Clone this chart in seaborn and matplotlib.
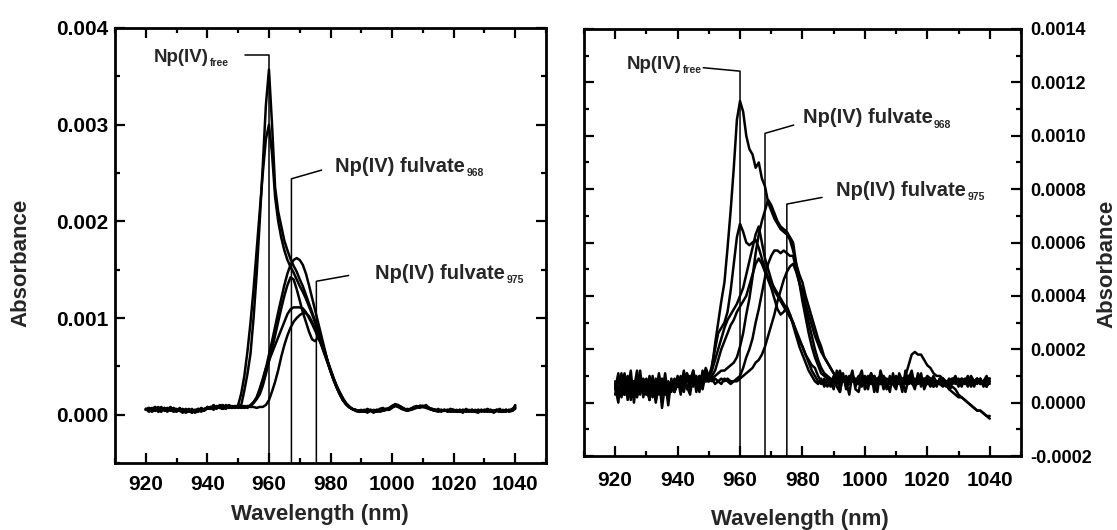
import numpy as np
import pandas as pd
import matplotlib
matplotlib.use("Agg")
import matplotlib.pyplot as plt
from matplotlib.ticker import MultipleLocator, FormatStrFormatter
import seaborn as sns

# ---------------- data (absorbance in units of 1e-5) ----------------
wavelength = list(range(920, 1041))

left_free_a = [
    5, 7, 4, 6, 5, 8, 4, 6, 5, 7,
    5, 4, 6, 3, 5, 4, 3, 5, 4, 6,
    6, 8, 5, 9, 7, 6, 8, 7, 9, 8,
    9, 10, 25, 42, 63, 100, 145, 200, 258, 320,
    357, 300, 235, 210, 195, 180, 170, 161, 154, 148,
    140, 133, 124, 115, 106, 97, 88, 78, 67, 56,
    47, 38, 30, 23, 17, 12, 9, 6, 5, 4,
    4, 3, 4, 5, 3, 4, 5, 4, 5, 6,
    8, 10, 9, 7, 6, 5, 6, 7, 8, 9,
    9, 8, 7, 6, 5, 4, 5, 4, 5, 4,
    4, 5, 3, 4, 5, 4, 3, 5, 4, 4,
    5, 4, 3, 4, 5, 4, 3, 4, 5, 4,
    9]
left_free_b = [
    6, 3, 5, 8, 4, 3, 7, 5, 8, 4,
    3, 7, 4, 2, 4, 6, 2, 4, 7, 5,
    8, 6, 10, 7, 9, 10, 7, 10, 8, 7,
    10, 22, 40, 65, 95, 130, 170, 210, 250, 285,
    300, 270, 225, 200, 183, 170, 160, 153, 147, 140,
    133, 127, 120, 112, 104, 95, 86, 76, 66, 56,
    46, 37, 29, 22, 16, 11, 8, 6, 5, 4,
    3, 4, 6, 4, 2, 4, 6, 7, 5, 6,
    9, 11, 10, 8, 6, 5, 6, 8, 9, 8,
    8, 10, 7, 5, 4, 6, 3, 5, 4, 6,
    5, 3, 4, 2, 6, 4, 5, 3, 2, 5,
    4, 6, 4, 2, 4, 6, 3, 5, 4, 6,
    7]
left_fulv_c = [
    5, 6, 3, 5, 8, 5, 6, 3, 7, 5,
    6, 4, 2, 5, 4, 2, 5, 3, 5, 4,
    7, 6, 9, 6, 10, 7, 6, 9, 7, 8,
    7, 8, 9, 8, 10, 13, 17, 25, 36, 48,
    62, 76, 91, 106, 120, 134, 146, 155, 160, 162,
    160, 155, 146, 134, 121, 108, 95, 82, 69, 56,
    45, 36, 29, 23, 17, 12, 8, 6, 4, 3,
    3, 4, 2, 5, 4, 3, 4, 5, 6, 7,
    9, 10, 8, 7, 5, 4, 5, 6, 7, 8,
    8, 7, 6, 5, 4, 3, 4, 5, 4, 3,
    4, 3, 5, 4, 3, 4, 5, 3, 4, 5,
    3, 4, 5, 3, 4, 3, 4, 5, 3, 4,
    6]
left_fulv_d = [
    6, 5, 7, 4, 6, 5, 7, 5, 4, 6,
    5, 4, 5, 4, 3, 5, 4, 6, 5, 5,
    8, 7, 6, 8, 7, 9, 8, 7, 8, 9,
    8, 9, 8, 8, 9, 12, 16, 21, 30, 42,
    55, 68, 82, 96, 110, 123, 134, 142, 140, 130,
    118, 106, 96, 86, 78, 76, 80, 74, 66, 55,
    45, 36, 28, 21, 15, 11, 8, 6, 5, 4,
    4, 5, 3, 4, 5, 4, 3, 4, 5, 5,
    8, 9, 9, 7, 5, 6, 5, 7, 8, 9,
    9, 8, 6, 5, 4, 5, 4, 4, 5, 4,
    3, 4, 5, 4, 4, 5, 3, 4, 5, 4,
    4, 3, 5, 4, 4, 3, 5, 4, 4, 5,
    8]
left_fulv_e = [
    5, 7, 5, 8, 3, 6, 5, 7, 5, 3,
    5, 6, 3, 4, 6, 2, 4, 6, 3, 6,
    6, 7, 9, 7, 8, 6, 10, 8, 7, 8,
    8, 7, 8, 7, 9, 13, 18, 27, 37, 48,
    56, 64, 72, 80, 88, 96, 104, 109, 111, 111,
    111, 110, 106, 100, 94, 87, 80, 72, 63, 54,
    45, 36, 28, 21, 15, 11, 8, 6, 5, 4,
    5, 4, 3, 4, 4, 5, 4, 5, 6, 5,
    7, 9, 8, 6, 5, 4, 6, 7, 8, 7,
    9, 8, 7, 6, 5, 4, 4, 5, 3, 4,
    5, 4, 3, 5, 4, 3, 4, 4, 5, 3,
    4, 5, 4, 3, 5, 4, 4, 3, 5, 4,
    7]
left_fulv_f = [
    6, 5, 6, 4, 5, 7, 5, 4, 6, 5,
    4, 5, 4, 6, 3, 4, 5, 4, 6, 5,
    7, 8, 6, 8, 8, 7, 8, 9, 7, 8,
    8, 8, 7, 9, 8, 8, 7, 8, 8, 10,
    15, 24, 34, 46, 60, 72, 82, 90, 96, 100,
    103, 105, 105, 102, 96, 89, 81, 73, 64, 55,
    46, 37, 29, 22, 16, 11, 8, 6, 5, 4,
    4, 3, 5, 4, 3, 5, 4, 5, 5, 6,
    8, 10, 9, 8, 6, 5, 5, 6, 8, 9,
    8, 8, 7, 5, 5, 4, 5, 4, 4, 5,
    4, 4, 3, 5, 4, 4, 5, 3, 4, 4,
    5, 4, 3, 4, 5, 4, 3, 5, 4, 4,
    10]

right_free_a = [
    6, 0, 11, 3, 9, 1, 8, 4, 12, 2,
    8, 1, 10, 0, 7, 3, 11, 2, 7, 4,
    9, 3, 11, 5, 8, 12, 4, 10, 7, 13,
    10, 13, 22, 30, 38, 45, 58, 72, 88, 106,
    113, 109, 100, 95, 93, 88, 90, 84, 81, 75,
    72, 69, 67, 65, 64, 63, 61, 57, 52, 48,
    45, 40, 36, 32, 28, 24, 21, 17, 15, 13,
    11, 9, 12, 8, 10, 7, 9, 8, 10, 7,
    8, 9, 7, 10, 8, 7, 9, 8, 7, 8,
    9, 7, 8, 10, 7, 8, 9, 7, 8, 7,
    8, 7, 6, 8, 7, 6, 7, 5, 6, 5,
    3, 2, 1, 0, -1, -2, -3, -3, -4, -5,
    -5]
right_free_b = [
    5, 11, 2, 8, 5, 12, 0, 9, 4, 8,
    3, 10, 5, 1, 11, 4, 8, -1, 9, 5,
    10, 5, 12, 6, 3, 11, 7, 4, 12, 8,
    9, 14, 20, 26, 28, 30, 34, 42, 52, 62,
    67, 64, 60, 59, 60, 61, 58, 54, 50, 47,
    45, 43, 41, 39, 37, 35, 33, 30, 27, 24,
    21, 18, 15, 12, 10, 8, 7, 9, 6, 8,
    5, 12, 4, 10, 8, 3, 11, 6, 9, 12,
    5, 8, 11, 4, 9, 10, 5, 8, 4, 11,
    6, 9, 4, 12, 7, 8, 5, 11, 6, 9,
    7, 9, 6, 8, 7, 9, 6, 8, 7, 9,
    6, 8, 7, 9, 6, 8, 7, 9, 6, 8,
    8]
right_fulv_c = [
    7, 4, 8, 3, 9, 5, 6, 2, 7, 5,
    8, 4, 7, 5, 3, 6, 4, 8, 5, 7,
    6, 9, 7, 10, 8, 6, 9, 7, 11, 8,
    8, 9, 10, 11, 12, 12, 13, 14, 15, 17,
    21, 26, 33, 39, 47, 56, 63, 68, 72, 76,
    74, 71, 68, 66, 65, 64, 62, 60, 52, 45,
    38, 32, 26, 21, 17, 14, 11, 10, 9, 8,
    9, 7, 10, 8, 9, 7, 10, 8, 7, 9,
    8, 10, 7, 9, 8, 10, 7, 9, 8, 7,
    10, 8, 9, 7, 8, 10, 7, 9, 8, 9,
    7, 8, 10, 7, 9, 8, 7, 9, 8, 10,
    7, 9, 8, 7, 10, 8, 9, 7, 8, 9,
    9]
right_fulv_d = [
    3, 10, 5, 11, 1, 8, 5, 12, 3, 9,
    6, 1, 8, 4, 10, -2, 7, 3, 8, 4,
    9, 6, 4, 11, 5, 12, 7, 9, 5, 11,
    9, 12, 16, 20, 24, 28, 31, 33, 35, 37,
    40, 43, 48, 53, 58, 63, 66, 60, 54, 50,
    46, 42, 40, 38, 36, 34, 32, 30, 26, 23,
    21, 18, 16, 14, 13, 10, 8, 7, 9, 6,
    8, 9, 7, 10, 6, 8, 9, 7, 8, 6,
    9, 7, 8, 10, 7, 9, 6, 8, 9, 7,
    8, 9, 7, 8, 10, 7, 8, 9, 7, 8,
    9, 7, 8, 6, 9, 7, 8, 6, 9, 7,
    8, 6, 9, 7, 8, 6, 9, 7, 8, 6,
    9]
right_fulv_e = [
    8, 3, 6, 9, 4, 7, 2, 8, 6, 5,
    3, 7, 5, 9, 4, 6, 8, 3, 7, 4,
    7, 10, 6, 8, 9, 7, 10, 6, 8, 9,
    8, 10, 12, 16, 20, 23, 26, 29, 31, 34,
    36, 38, 40, 44, 48, 52, 54, 52, 49, 46,
    43, 39, 35, 33, 34, 36, 33, 29, 25, 21,
    18, 15, 12, 10, 8, 7, 9, 6, 8, 7,
    10, 6, 4, 11, 5, 8, 12, 5, 4, 10,
    8, 5, 11, 7, 4, 12, 8, 5, 10, 7,
    5, 11, 8, 4, 9, 12, 6, 8, 11, 5,
    8, 6, 9, 8, 7, 9, 8, 6, 7, 8,
    9, 7, 8, 6, 9, 7, 8, 9, 7, 6,
    8]
right_fulv_f = [
    6, 9, 4, 7, 10, 3, 8, 5, 9, 6,
    4, 7, 2, 8, 5, 9, 3, 6, 4, 8,
    9, 6, 8, 11, 7, 9, 8, 10, 7, 9,
    8, 9, 7, 8, 9, 8, 9, 8, 8, 9,
    10, 13, 17, 20, 24, 30, 35, 41, 47, 52,
    55, 57, 57, 56, 57, 56, 55, 55, 50, 45,
    40, 35, 30, 25, 20, 16, 13, 11, 10, 9,
    8, 10, 7, 9, 8, 10, 9, 7, 8, 9,
    10, 8, 9, 7, 8, 9, 10, 8, 7, 9,
    8, 7, 9, 8, 10, 9, 8, 7, 9, 8,
    10, 9, 8, 7, 8, 9, 7, 8, 9, 8,
    7, 9, 8, 10, 7, 8, 9, 7, 8, 10,
    7]
right_fulv_g = [
    7, 5, 9, 3, 6, 8, 4, 10, 5, 7,
    9, 5, 6, 4, 7, 3, 8, 6, 5, 9,
    6, 8, 7, 9, 10, 8, 7, 9, 8, 10,
    9, 8, 9, 8, 7, 9, 8, 7, 8, 8,
    9, 10, 11, 12, 13, 15, 16, 18, 21, 25,
    29, 33, 38, 42, 46, 49, 51, 52, 49, 45,
    42, 37, 33, 29, 25, 22, 19, 17, 15, 13,
    11, 10, 9, 8, 9, 7, 8, 9, 7, 8,
    9, 8, 7, 9, 8, 7, 9, 8, 7, 9,
    8, 9, 7, 10, 14, 18, 19, 18, 18, 16,
    14, 13, 11, 10, 10, 9, 7, 5, 4, 3,
    2, 2, 1, 0, -1, -2, -3, -3, -4, -5,
    -6]

left_series = {"free_a": left_free_a, "free_b": left_free_b, "fulv_c": left_fulv_c,
               "fulv_d": left_fulv_d, "fulv_e": left_fulv_e, "fulv_f": left_fulv_f}
right_series = {"free_a": right_free_a, "free_b": right_free_b, "fulv_c": right_fulv_c,
                "fulv_d": right_fulv_d, "fulv_e": right_fulv_e, "fulv_f": right_fulv_f,
                "fulv_g": right_fulv_g}

# species peak positions (nm) marked by the leader lines
peak_free = 960.0
peak_968_left, peak_975_left = 967.3, 975.4
peak_968_right, peak_975_right = 968.0, 975.0

SCALE = 1e-5


def long_frame(series):
    rows = []
    for name, vals in series.items():
        for w, v in zip(wavelength, vals):
            rows.append((name, w, v * SCALE))
    return pd.DataFrame(rows, columns=["series", "wavelength", "absorbance"])


df_left = long_frame(left_series)
df_right = long_frame(right_series)

# ---------------- style ----------------
sns.set_style("ticks")
plt.rcParams["font.family"] = ["Liberation Sans", "DejaVu Sans"]
plt.rcParams["font.weight"] = "bold"

fig = plt.figure(figsize=(11.17, 5.30), dpi=100)
axL = fig.add_axes([0.103, 0.1264, 0.3858, 0.8208])
axR = fig.add_axes([0.5228, 0.1396, 0.3912, 0.8057])

for ax, df in ((axL, df_left), (axR, df_right)):
    sns.lineplot(data=df, x="wavelength", y="absorbance", units="series",
                 estimator=None, color="black", lw=1.8, ax=ax, legend=False)


def style_axes(ax, ymaj, ymin, yfmt, right_labels):
    ax.set_xlim(910, 1050)
    ax.xaxis.set_major_locator(MultipleLocator(20))
    ax.xaxis.set_minor_locator(MultipleLocator(10))
    ax.yaxis.set_major_locator(MultipleLocator(ymaj))
    ax.yaxis.set_minor_locator(MultipleLocator(ymin))
    ax.yaxis.set_major_formatter(FormatStrFormatter(yfmt))
    ax.tick_params(which="both", direction="in", top=True, bottom=True,
                   left=True, right=True, width=1.6, colors="black")
    ax.tick_params(which="major", length=7)
    ax.tick_params(which="minor", length=3.5)
    ax.tick_params(axis="x", which="major", labelsize=15)
    if right_labels:
        ax.tick_params(axis="x", pad=11)
        ax.tick_params(axis="y", labelleft=False, labelright=True, labelsize=13, pad=7)
    else:
        ax.tick_params(axis="x", pad=8.5)
        ax.tick_params(axis="y", labelsize=15, pad=5)
    for lab in ax.get_xticklabels() + ax.get_yticklabels():
        lab.set_fontweight("bold")
    for sp in ax.spines.values():
        sp.set_linewidth(2.0)
        sp.set_color("black")
        sp.set_visible(True)
    ax.set_xlabel("Wavelength (nm)", fontsize=16, fontweight="bold")
    ax.set_ylabel("Absorbance", fontsize=16, fontweight="bold")


style_axes(axL, 0.001, 0.0005, "%.3f", False)
axL.set_ylim(-0.0005, 0.004)
axL.xaxis.set_label_coords(0.476, -0.095)
axL.yaxis.set_label_coords(-0.193, 0.46)

style_axes(axR, 0.0002, 0.0001, "%.4f", True)
axR.set_ylim(-0.0002, 0.0014)
axR.yaxis.set_label_position("right")
axR.yaxis.set_label_coords(1.172, 0.45)
axR.xaxis.set_label_coords(0.494, -0.125)

# ---------------- annotations ----------------
fig.canvas.draw()
renderer = fig.canvas.get_renderer()


def label(ax, x, y, main, sub, fs=14, sub_fs=7.5):
    t = ax.annotate(main, xy=(x, y), xytext=(0, -5), textcoords="offset points",
                    fontsize=fs, fontweight="bold", va="baseline", ha="left")
    w_pt = t.get_window_extent(renderer).width * 72.0 / fig.dpi
    ax.annotate(sub, xy=(x, y), xytext=(w_pt + 0.8, -8), textcoords="offset points",
                fontsize=sub_fs, fontweight="bold", va="baseline", ha="left")


def leader(ax, x0, y0, xp, yc, ybottom):
    ax.plot([x0, xp, xp], [y0, yc, ybottom], color="black", lw=1.1)


# left panel
label(axL, 922.5, 0.00372, "Np(IV)", "free", fs=13.5)
leader(axL, 952.1, 0.00372, peak_free, 0.00372, -0.0005)
label(axL, 981.6, 0.00258, "Np(IV) fulvate", "968", fs=14.5)
leader(axL, 977.1, 0.00253, peak_968_left, 0.00244, -0.0005)
label(axL, 994.6, 0.00148, "Np(IV) fulvate", "975", fs=14.5)
leader(axL, 985.9, 0.00144, peak_975_left, 0.00138, -0.0005)

# right panel
label(axR, 923.8, 0.001275, "Np(IV)", "free", fs=13.5)
leader(axR, 948.2, 0.001255, peak_free, 0.001242, -0.0002)
label(axR, 980.1, 0.001072, "Np(IV) fulvate", "968", fs=14.5)
leader(axR, 977.2, 0.00104, peak_968_right, 0.001009, -0.0002)
label(axR, 990.9, 0.00080, "Np(IV) fulvate", "975", fs=14.5)
leader(axR, 986.3, 0.000769, peak_975_right, 0.000744, -0.0002)

fig.savefig("out.png", dpi=100)
